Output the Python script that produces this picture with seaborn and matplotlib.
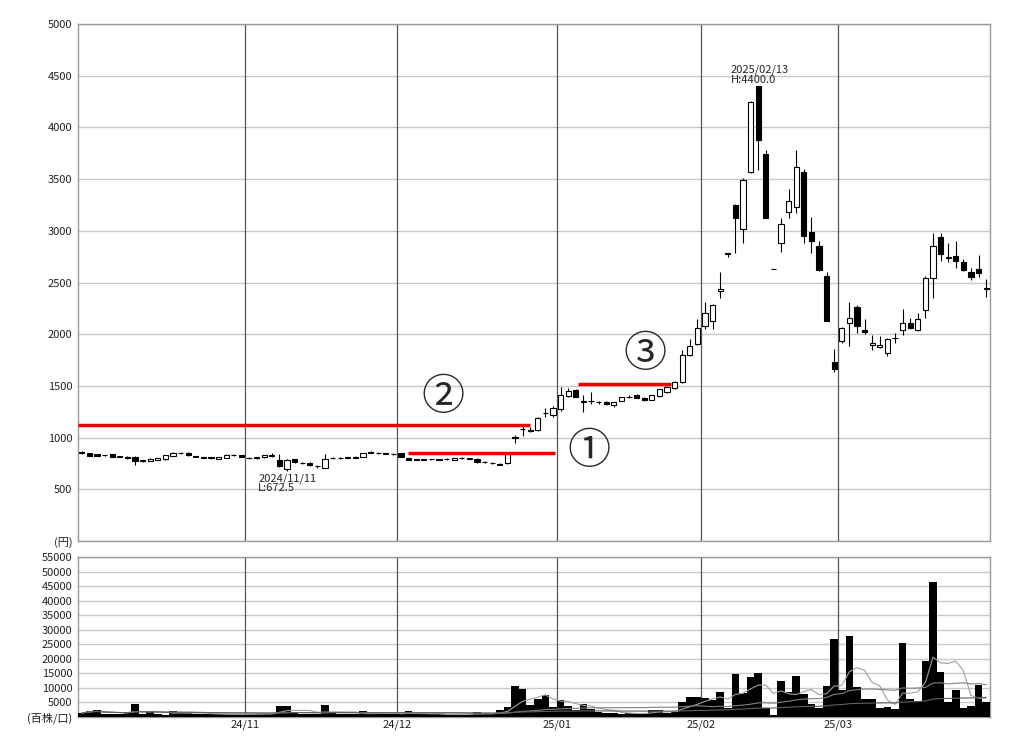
import numpy as np
import pandas as pd
import seaborn as sns
import matplotlib.pyplot as plt

# daily candles, 2024/10/01 - 2025/03/28 (120 sessions)
opens = [860, 850, 840, 830, 840, 815, 800, 815, 775, 775, 785, 790, 825, 850, 855, 815, 805, 810, 795, 805, 830, 830,
         800, 805, 810, 820, 785, 700, 790, 755, 755, 725, 710, 800, 800, 805, 805, 815, 865, 850, 845, 840,
         850, 800, 785, 785, 790, 785, 790, 785, 800, 795, 795, 760, 755, 745, 750, 1000, 1080, 1075, 1070, 1235, 1220,
         1280, 1400, 1460, 1345, 1350, 1340, 1345, 1315, 1355, 1390, 1410, 1385, 1365, 1400, 1440, 1480, 1540, 1800, 1910,
         2080, 2130, 2420, 2780, 3250, 3020, 3570, 4400, 3740, 2630, 2880, 3180, 3230, 3570, 2990, 2850, 2560, 1730,
         1935, 2110, 2265, 2040, 1895, 1880, 1820, 1960, 2040, 2105, 2040, 2235, 2545, 2940, 2740, 2755, 2700, 2600, 2630, 2440]
highs = [870, 855, 845, 835, 845, 820, 820, 820, 780, 800, 805, 835, 860, 860, 860, 825, 815, 815, 815, 840, 840, 835,
         810, 810, 835, 850, 845, 790, 795, 765, 760, 735, 845, 810, 810, 810, 820, 855, 870, 860, 850, 850,
         855, 805, 790, 795, 795, 790, 800, 805, 810, 800, 800, 770, 760, 750, 855, 1025, 1110, 1100, 1195, 1290, 1310,
         1490, 1480, 1470, 1410, 1440, 1350, 1350, 1345, 1395, 1410, 1420, 1390, 1415, 1475, 1495, 1545, 1850, 1950, 2150,
         2310, 2290, 2600, 2790, 3260, 3510, 4260, 4400, 3780, 2630, 3125, 3400, 3780, 3600, 3130, 2900, 2600, 1860,
         2070, 2310, 2280, 2150, 1990, 1980, 1960, 2010, 2240, 2160, 2210, 2560, 2980, 2980, 2880, 2900, 2730, 2640, 2770, 2530]
lows = [845, 820, 820, 825, 810, 810, 795, 740, 760, 770, 780, 785, 820, 845, 825, 810, 800, 795, 790, 800, 825, 810,
        795, 795, 805, 815, 715, 672.5, 755, 745, 730, 710, 705, 790, 795, 800, 800, 810, 850, 845, 840, 835,
        810, 780, 780, 780, 785, 780, 785, 780, 795, 790, 755, 755, 745, 735, 745, 950, 1020, 1050, 1060, 1200, 1200,
        1260, 1390, 1390, 1250, 1330, 1330, 1320, 1300, 1350, 1380, 1380, 1355, 1360, 1395, 1430, 1470, 1530, 1790, 1900,
        2050, 2050, 2350, 2750, 2790, 2880, 3560, 3590, 3120, 2630, 2795, 3125, 3170, 2880, 2790, 2610, 2125, 1634,
        1920, 1890, 2015, 2000, 1850, 1865, 1790, 1920, 1990, 2050, 2030, 2160, 2350, 2710, 2700, 2640, 2610, 2520, 2555, 2360]
closes = [850, 825, 825, 830, 815, 815, 815, 770, 775, 795, 800, 830, 855, 850, 830, 815, 805, 800, 810, 835, 830, 815,
          800, 805, 830, 835, 730, 780, 760, 755, 735, 725, 790, 800, 800, 805, 815, 850, 855, 850, 845, 840,
          815, 785, 785, 785, 790, 785, 790, 800, 800, 795, 760, 760, 755, 740, 850, 1005, 1085, 1060, 1190, 1240, 1290,
          1410, 1450, 1395, 1350, 1355, 1340, 1325, 1340, 1390, 1390, 1385, 1365, 1410, 1470, 1490, 1540, 1800, 1890, 2060,
          2205, 2280, 2440, 2785, 3125, 3490, 4250, 3880, 3125, 2630, 3065, 3290, 3620, 2950, 2900, 2620, 2130, 1665,
          2060, 2155, 2080, 2025, 1915, 1900, 1950, 1965, 2110, 2060, 2145, 2545, 2855, 2775, 2740, 2710, 2620, 2555, 2590, 2440]
# volume in hundreds of shares
volumes = [1200, 2000, 2100, 900, 1000, 900, 1200, 4300, 900, 1500, 800, 600, 2000, 1200, 1200, 900, 800, 800, 700, 700, 700, 700,
           900, 900, 900, 900, 3700, 3700, 1500, 700, 700, 700, 4000, 1700, 700, 700, 700, 1900, 1000, 1000, 1000, 1000,
           700, 1900, 700, 700, 700, 700, 700, 700, 700, 700, 1700, 700, 700, 2250, 3300, 10500, 9500, 4000, 6000, 7400, 3300,
           5700, 3500, 2400, 4200, 2500, 1700, 1100, 1100, 900, 1100, 1000, 1000, 2400, 2400, 1100, 1700, 5000, 6600, 6600,
           6300, 5700, 8600, 2800, 14700, 8100, 13500, 15100, 2800, 400, 12300, 8600, 13800, 7800, 4200, 3100, 10500, 26900,
           9000, 27600, 10300, 5900, 6000, 3000, 3300, 2500, 25500, 5900, 5300, 19300, 46400, 15500, 5000, 9200, 2800, 3700, 11000, 5000]

month_pos = [21.5, 41.5, 62.5, 81.5, 99.5]
month_labels = ['24/11', '24/12', '25/01', '25/02', '25/03']

sns.set_style('white')
plt.rcParams['font.family'] = ['Noto Sans CJK JP', 'DejaVu Sans']

fig = plt.figure(figsize=(10.24, 7.44), dpi=100)
ax = fig.add_axes([0.0762, 0.2728, 0.8906, 0.6949])
axv = fig.add_axes([0.0762, 0.03696, 0.8906, 0.2143])

idx = np.arange(len(opens))
o, h, l, c = (np.array(v, dtype=float) for v in (opens, highs, lows, closes))
up = c >= o
lo = np.minimum(o, c)
hgt = np.maximum(np.abs(c - o), 4)

# candles
ax.vlines(idx, l, h, color='black', lw=0.8, zorder=3)
ax.bar(idx[up], hgt[up], bottom=lo[up], width=0.7, facecolor='white', edgecolor='black', lw=0.8, zorder=4)
ax.bar(idx[~up], hgt[~up], bottom=lo[~up], width=0.7, facecolor='black', edgecolor='black', lw=0.8, zorder=4)

# volume + moving averages
df = pd.DataFrame({'day': idx, 'vol': volumes})
sns.barplot(data=df, x='day', y='vol', native_scale=True, color='black', width=1.0,
            linewidth=0, saturation=1, errorbar=None, ax=axv, zorder=3)
for win, col in [(5, '#a0a0a0'), (25, '#808080'), (75, '#606060')]:
    ma = df['vol'].rolling(win, min_periods=1).mean()
    sns.lineplot(x=idx, y=ma, ax=axv, color=col, lw=0.8, zorder=4)

for a in (ax, axv):
    a.set_xlim(-0.5, len(opens) - 0.5)
    a.yaxis.grid(True, color='#c8c8c8', lw=1)
    a.set_axisbelow(True)
    for p in month_pos:
        a.axvline(p, color='#555555', lw=0.9, zorder=2)
    for s in a.spines.values():
        s.set_color('#999999')
        s.set_linewidth(1)
    a.tick_params(axis='y', labelsize=8, length=3, colors='#222222', pad=1)
    a.set_xlabel('')
    a.set_ylabel('')

ax.set_ylim(0, 5000)
ax.set_yticks(range(0, 5001, 500))
ax.set_yticklabels(['(円)'] + [str(v) for v in range(500, 5001, 500)])
ax.set_xticks([])

axv.set_ylim(0, 55000)
axv.set_yticks(range(0, 55001, 5000))
axv.set_yticklabels(['(百株/口)'] + [str(v) for v in range(5000, 55001, 5000)])
axv.set_xticks(month_pos)
axv.set_xticklabels(month_labels)
axv.tick_params(axis='x', labelsize=8, length=0, colors='#222222', pad=2)

# high / low notes
ax.text(85.4, 4410, '2025/02/13\nH:4400.0', fontsize=8, ha='left', va='bottom', linespacing=0.95)
ax.text(23.2, 655, '2024/11/11\nL:672.5', fontsize=8, ha='left', va='top', linespacing=0.95)

# red lines and circled numbers
ax.hlines(1120, -0.5, 59.0, color='#ee0000', lw=2.5, zorder=5)
ax.hlines(855, 42.9, 62.3, color='#ee0000', lw=2.5, zorder=5)
ax.hlines(1515, 65.3, 77.5, color='#ee0000', lw=2.5, zorder=5)
ax.text(47.5, 1383, '②', fontsize=31, ha='center', va='center')
ax.text(66.7, 861, '①', fontsize=31, ha='center', va='center')
ax.text(74.1, 1799, '③', fontsize=31, ha='center', va='center')

fig.savefig('out.png', dpi=100)
